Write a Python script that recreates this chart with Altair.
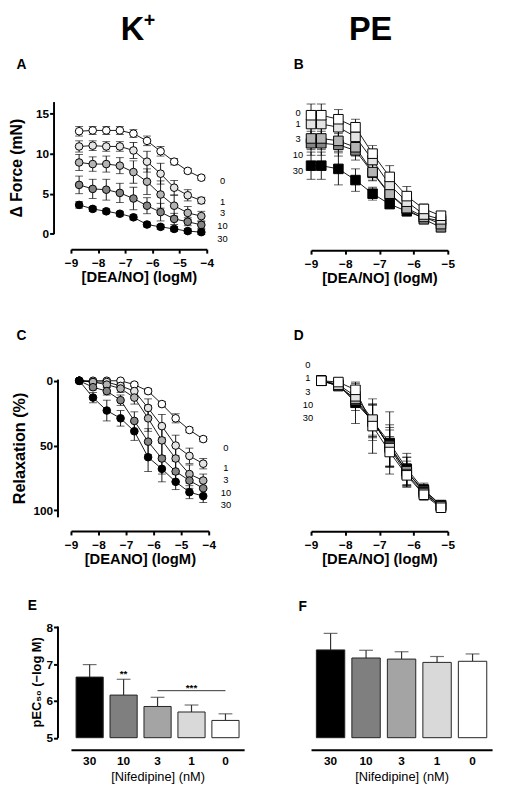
import altair as alt
import pandas as pd

FONT = "Liberation Sans"

# ---------------- data ----------------
SERIES = ["0", "1", "3", "10", "30"]
SERIES_FILL = ["#ffffff", "#e4e4e4", "#b4b4b4", "#858585", "#000000"]

X_AC = [-8.7, -8.2, -7.7, -7.2, -6.7, -6.2, -5.7, -5.2, -4.7, -4.2]
X_B = [-9.0, -8.7, -8.2, -7.7, -7.2, -6.7, -6.2, -5.7, -5.2]
X_D = [-8.7, -8.2, -7.7, -7.2, -6.7, -6.2, -5.7, -5.2]

# Panel A: force (mN), K+ contraction
A_0 = [12.8, 12.9, 12.9, 12.9, 12.5, 11.6, 10.3, 9.0, 7.85, 7.0]
A_1 = [10.9, 11.0, 10.9, 10.9, 10.4, 9.0, 7.5, 5.75, 4.8, 4.15]
A_3 = [8.9, 8.7, 8.7, 8.5, 7.7, 6.5, 4.9, 3.5, 2.6, 2.2]
A_10 = [6.1, 5.6, 5.5, 5.1, 4.4, 3.5, 2.7, 1.85, 1.5, 1.1]
A_30 = [3.6, 3.1, 2.8, 2.5, 2.05, 1.15, 0.86, 0.6, 0.33, 0.2]
A_0E = [0.6, 0.5, 0.5, 0.5, 0.5, 0.6, 0.6, 0.4, 0.3, 0.3]
A_1E = [0.7, 0.6, 0.6, 0.6, 1.0, 1.3, 1.3, 0.9, 0.7, 0.4]
A_3E = [1.0, 0.9, 1.0, 1.0, 1.4, 1.6, 1.7, 1.3, 0.8, 0.6]
A_10E = [1.1, 1.2, 1.3, 1.2, 1.4, 1.0, 1.1, 0.7, 0.5, 0.45]
A_30E = [0.4, 0.3, 0.3, 0.3, 0.3, 0.3, 0.3, 0.3, 0.3, 0.3]

# Panel B: force (mN), PE contraction
B_0 = [14.8, 14.8, 14.3, 13.3, 10.0, 7.1, 4.7, 3.1, 2.25]
B_1 = [13.7, 13.7, 13.3, 12.1, 9.2, 6.1, 4.0, 2.4, 1.8]
B_3 = [11.9, 11.9, 11.6, 10.8, 7.7, 5.0, 3.2, 2.1, 1.2]
B_10 = [11.3, 11.3, 11.1, 10.4, 7.6, 4.9, 3.1, 1.8, 0.8]
B_30 = [8.5, 8.5, 8.1, 6.7, 5.0, 3.7, 2.8, 2.0, 1.6]
B_0E = [1.4, 1.4, 1.2, 1.0, 1.0, 1.4, 1.2, 0.6, 0.4]
B_1E = [1.3, 1.3, 1.2, 1.0, 1.0, 1.2, 0.9, 0.5, 0.4]
B_3E = [1.4, 1.4, 1.3, 1.1, 1.0, 1.0, 0.8, 0.5, 0.4]
B_10E = [1.5, 1.5, 1.4, 1.2, 1.0, 1.0, 0.8, 0.5, 0.4]
B_30E = [1.7, 1.7, 2.0, 1.4, 0.8, 0.5, 0.4, 0.3, 0.3]

# Panel C: relaxation (%), K+
C_0 = [0, 0, 0, 0, 3, 8, 18, 29, 38, 45]
C_1 = [0, 1, 1, 4, 8, 21, 35, 50, 58, 64]
C_3 = [0, 1, 3, 6, 13, 29, 46, 60, 72, 77]
C_10 = [0, 5, 8, 15, 31, 47, 60, 70, 77, 83]
C_30 = [0, 13, 23, 29, 39, 59, 68, 78, 86, 89]
C_0E = [0, 1, 1, 1, 1.5, 2, 2, 3.5, 2, 2]
C_1E = [0, 1, 1, 2, 4, 7, 9, 8, 6, 4]
C_3E = [0, 1, 2, 3, 5, 10, 12, 10, 7, 5]
C_10E = [0, 2, 3, 4, 7, 10, 12, 8, 6, 5]
C_30E = [0, 4, 8, 6, 7, 11, 10, 6, 5, 5]

# Panel D: relaxation (%), PE
D_0 = [0, 1, 7, 35, 55, 73, 88, 98]
D_1 = [0, 3, 12, 30, 52, 72, 87, 97]
D_3 = [0, 4, 14, 31, 51, 70, 86, 97]
D_10 = [0, 4, 15, 32, 50, 70, 85, 96]
D_30 = [0, 3, 17, 31, 48, 68, 84, 96]
D_0E = [0, 2, 5, 21, 12, 9, 4, 2]
D_1E = [0, 2, 6, 12, 14, 10, 5, 2]
D_3E = [0, 2, 6, 13, 15, 11, 5, 2]
D_10E = [0, 3, 8, 14, 16, 11, 5, 2]
D_30E = [0, 3, 16, 12, 24, 12, 5, 2]

# series labels drawn beside the curves (data coordinates)
A_LAB_X = [-3.42] * 5
A_LAB_Y = [6.55, 4.0, 2.6, 0.95, -0.7]
B_LAB_X = [-9.38] * 5
B_LAB_Y = [15.1, 13.75, 11.8, 9.85, 7.8]
C_LAB_X = [-3.375] * 5
C_LAB_Y = [52, 67.2, 76.5, 86.6, 96]
D_LAB_X = [-9.09] * 5
D_LAB_Y = [-12.4, -2.3, 8.4, 18.5, 29]

# Panels E, F: pEC50 bars
NIF_CATS = ["30", "10", "3", "1", "0"]
BAR_FILL = ["#000000", "#7f7f7f", "#a4a4a4", "#d9d9d9", "#ffffff"]
E_MEAN = [6.65, 6.16, 5.85, 5.70, 5.47]
E_SEM = [0.34, 0.43, 0.25, 0.19, 0.18]
F_MEAN = [7.39, 7.17, 7.14, 7.05, 7.08]
F_SEM = [0.45, 0.21, 0.20, 0.16, 0.20]
E_SIG2 = {"cat": "10", "y": 6.64, "t": "**"}
E_SIG3 = {"from": "3", "to": "0", "mid": "1", "y": 6.28, "t": "***"}

PANEL_LETTERS = ["A", "B", "C", "D", "E", "F"]
HEADERS = ["K", "+", "PE"]


# ---------------- helpers ----------------
def curve_df(xs, means, errs, order):
    rows = []
    for s in order:
        for x, m, e in zip(xs, means[s], errs[s]):
            rows.append({"s": s, "x": x, "y": m, "lo": m - e, "hi": m + e})
    return pd.DataFrame(rows)


def text_mark(txt, x, y, size, weight="bold", align="left", baseline="alphabetic"):
    return alt.Chart(pd.DataFrame({"t": [txt]})).mark_text(
        font=FONT, fontSize=size, fontWeight=weight, align=align,
        baseline=baseline, color="black"
    ).encode(text="t:N", x=alt.value(x), y=alt.value(y))


def x_axis(values, title, offset):
    return alt.Axis(values=values, format="d", title=title, offset=offset,
                    tickSize=4, labelPadding=5, titlePadding=1, titleFontSize=15,
                    labelFlush=False, labelOverlap=False)


def y_axis(values, title, offset, tsize, tpad):
    return alt.Axis(values=values, format="d", title=title, offset=offset,
                    tickSize=4, labelPadding=1, titleFontSize=tsize,
                    titlePadding=tpad, labelOverlap=False)


def curve_panel(df, lab_x, lab_y, xdom, xax, ydom, yrev, yax, shape, msize,
                cap, lab_weight, w, h, extras):
    xs = alt.Scale(domain=xdom, nice=False, zero=False)
    ys = alt.Scale(domain=ydom, nice=False, zero=False, reverse=yrev)

    def X():
        return alt.X("x:Q", scale=xs, axis=xax)

    def Y(f):
        return alt.Y(f + ":Q", scale=ys, axis=yax)

    base = alt.Chart(df)
    line = base.mark_line(color="black", strokeWidth=0.9).encode(
        X(), Y("y"), detail="s:N", order=alt.Order("x:Q"))
    rule = base.mark_rule(color="black", strokeWidth=0.9).encode(
        X(), Y("lo"), y2=alt.Y2("hi"))
    cap_lo = base.mark_tick(color="black", thickness=0.9, size=cap,
                            orient="horizontal").encode(X(), Y("lo"))
    cap_hi = base.mark_tick(color="black", thickness=0.9, size=cap,
                            orient="horizontal").encode(X(), Y("hi"))
    pts = base.mark_point(filled=True, shape=shape, size=msize, stroke="black",
                          strokeWidth=1, opacity=1).encode(
        X(), Y("y"),
        fill=alt.Fill("s:N", scale=alt.Scale(domain=SERIES, range=SERIES_FILL),
                      legend=None))
    lab_df = pd.DataFrame({"x": lab_x, "y": lab_y, "t": SERIES})
    labs = alt.Chart(lab_df).mark_text(
        font=FONT, fontSize=9.5, fontWeight=lab_weight, align="center",
        baseline="middle", color="black"
    ).encode(X(), Y("y"), text="t:N")
    return alt.layer(line, rule, cap_lo, cap_hi, pts, labs, *extras).properties(
        width=w, height=h)


def bar_panel(means, sems, w, h, yax, extras_fn):
    df = pd.DataFrame({"c": NIF_CATS, "v": means,
                       "hi": [m + e for m, e in zip(means, sems)],
                       "base": [5.0] * len(means)})
    xs = alt.Scale(domain=NIF_CATS, paddingInner=0.2, paddingOuter=0.15)
    ys = alt.Scale(domain=[5, 8.04], nice=False, zero=False)
    xax = alt.Axis(title="[Nifedipine] (nM)", titleFontWeight="normal",
                   titleFontSize=13, titlePadding=4, ticks=False,
                   labelPadding=6, labelAngle=0, offset=12.3)

    def X(f="c"):
        return alt.X(f + ":N", scale=xs, sort=NIF_CATS, axis=xax)

    def Y(f):
        return alt.Y(f + ":Q", scale=ys, axis=yax)

    base = alt.Chart(df)
    err = base.mark_rule(color="#333333", strokeWidth=1.2).encode(
        X(), Y("v"), y2=alt.Y2("hi"))
    cap = base.mark_tick(color="#333333", thickness=1.2, size=14,
                         orient="horizontal").encode(X(), Y("hi"))
    bars = base.mark_bar(stroke="#222222", strokeWidth=1).encode(
        X(), Y("v"), y2=alt.Y2("base"),
        fill=alt.Fill("c:N", scale=alt.Scale(domain=NIF_CATS, range=BAR_FILL),
                      legend=None))
    layers = [err, cap, bars] + extras_fn(X, Y)
    return alt.layer(*layers).properties(width=w, height=h)


def spacer(h):
    return alt.Chart(pd.DataFrame({"v": [0]})).mark_point(opacity=0).encode(
        x=alt.X("v:Q", axis=None), y=alt.Y("v:Q", axis=None)
    ).properties(width=1, height=h)


# ---------------- panels ----------------
A_df = curve_df(X_AC, {"0": A_0, "1": A_1, "3": A_3, "10": A_10, "30": A_30},
                {"0": A_0E, "1": A_1E, "3": A_3E, "10": A_10E, "30": A_30E},
                ["0", "1", "3", "10", "30"])
B_df = curve_df(X_B, {"0": B_0, "1": B_1, "3": B_3, "10": B_10, "30": B_30},
                {"0": B_0E, "1": B_1E, "3": B_3E, "10": B_10E, "30": B_30E},
                ["30", "10", "3", "1", "0"])
C_df = curve_df(X_AC, {"0": C_0, "1": C_1, "3": C_3, "10": C_10, "30": C_30},
                {"0": C_0E, "1": C_1E, "3": C_3E, "10": C_10E, "30": C_30E},
                ["0", "1", "3", "10", "30"])
D_df = curve_df(X_D, {"0": D_0, "1": D_1, "3": D_3, "10": D_10, "30": D_30},
                {"0": D_0E, "1": D_1E, "3": D_3E, "10": D_10E, "30": D_30E},
                ["30", "10", "3", "1", "0"])

panel_A = curve_panel(
    A_df, A_LAB_X, A_LAB_Y, [-9, -4],
    x_axis([-9, -8, -7, -6, -5, -4], "[DEA/NO] (logM)", 15.7),
    [0, 16.5], False, y_axis([0, 5, 10, 15], "Δ Force (mN)", 17.7, 16, 11),
    "circle", 60, 8, "normal", 138, 134.3,
    [text_mark(PANEL_LETTERS[0], -55.3, -33.4, 14),
     text_mark(HEADERS[0], 50.7, -62.2, 33),
     text_mark(HEADERS[1], 79.7, -81.8, 20, align="center", baseline="middle")])

panel_B = curve_panel(
    B_df, B_LAB_X, B_LAB_Y, [-9, -5],
    x_axis([-9, -8, -7, -6, -5], "[DEA/NO] (logM)", 16.7),
    [0, 16.5], False, None,
    "square", 94, 9, "normal", 139, 134.3,
    [text_mark(PANEL_LETTERS[1], -17.7, -33.4, 14),
     text_mark(HEADERS[2], 60.5, -62.2, 33, align="center")])

panel_C = curve_panel(
    C_df, C_LAB_X, C_LAB_Y, [-9, -4],
    x_axis([-9, -8, -7, -6, -5, -4], "[DEANO] (logM)", 14.4),
    [-1.3, 105], True, y_axis([0, 50, 100], "Relaxation (%)", 13.7, 16.5, 6),
    "circle", 60, 8, "normal", 140, 140,
    [text_mark(PANEL_LETTERS[2], -55.3, -39.3, 14)])

panel_D = curve_panel(
    D_df, D_LAB_X, D_LAB_Y, [-9, -5],
    x_axis([-9, -8, -7, -6, -5], "[DEA/NO] (logM)", 14.7),
    [-1.3, 105], True, None,
    "square", 94, 9, "normal", 139, 140,
    [text_mark(PANEL_LETTERS[3], -17.7, -39.3, 14)])


def e_extras(X, Y):
    s2 = alt.Chart(pd.DataFrame({"c": [E_SIG2["cat"]], "y": [E_SIG2["y"]],
                                 "t": [E_SIG2["t"]]})).mark_text(
        font=FONT, fontSize=10, fontWeight="bold", align="center",
        baseline="alphabetic", color="black").encode(X("c"), Y("y"), text="t:N")
    line_df = pd.DataFrame({"a": [E_SIG3["from"]], "b": [E_SIG3["to"]],
                            "y": [E_SIG3["y"]]})
    ln = alt.Chart(line_df).mark_rule(color="#333333", strokeWidth=1).encode(
        X("a"), x2=alt.X2("b"), y=Y("y"))
    s3 = alt.Chart(pd.DataFrame({"c": [E_SIG3["mid"]], "y": [E_SIG3["y"]],
                                 "t": [E_SIG3["t"]]})).mark_text(
        font=FONT, fontSize=10, fontWeight="bold", align="center",
        baseline="alphabetic", color="black").encode(X("c"), Y("y"), text="t:N")
    return [ln, s2, s3, text_mark(PANEL_LETTERS[4], -44, -15.8, 14)]


def f_extras(X, Y):
    return [text_mark(PANEL_LETTERS[5], -12.7, -14.8, 14)]


panel_E = bar_panel(E_MEAN, E_SEM, 176, 113.5,
                    y_axis([5, 6, 7, 8], "pEC₅₀ (−log M)", 13.7, 13, 3), e_extras)
panel_F = bar_panel(F_MEAN, F_SEM, 184, 113.5, None, f_extras)

chart = alt.concat(
    panel_A, panel_B, spacer(106.3), spacer(106.3),
    panel_C, panel_D, spacer(70.2), spacer(70.2),
    panel_E, panel_F,
    columns=2, spacing={"row": 20, "column": 68}, bounds="flush", align="each"
).resolve_scale(
    x="independent", y="independent", fill="independent"
).properties(
    padding={"left": 64, "top": 88.7, "right": 433, "bottom": 699},
    autosize=alt.AutoSizeParams(type="none")
).configure_view(
    stroke="transparent"
).configure_axis(
    domainColor="black", domainWidth=2, tickColor="black", tickWidth=2,
    labelFont=FONT, labelFontSize=12, labelFontWeight="bold", labelColor="black",
    titleFont=FONT, titleFontWeight="bold", titleColor="black", grid=False
)

chart.save("out.html", embed_options={"renderer": "svg", "actions": False})
